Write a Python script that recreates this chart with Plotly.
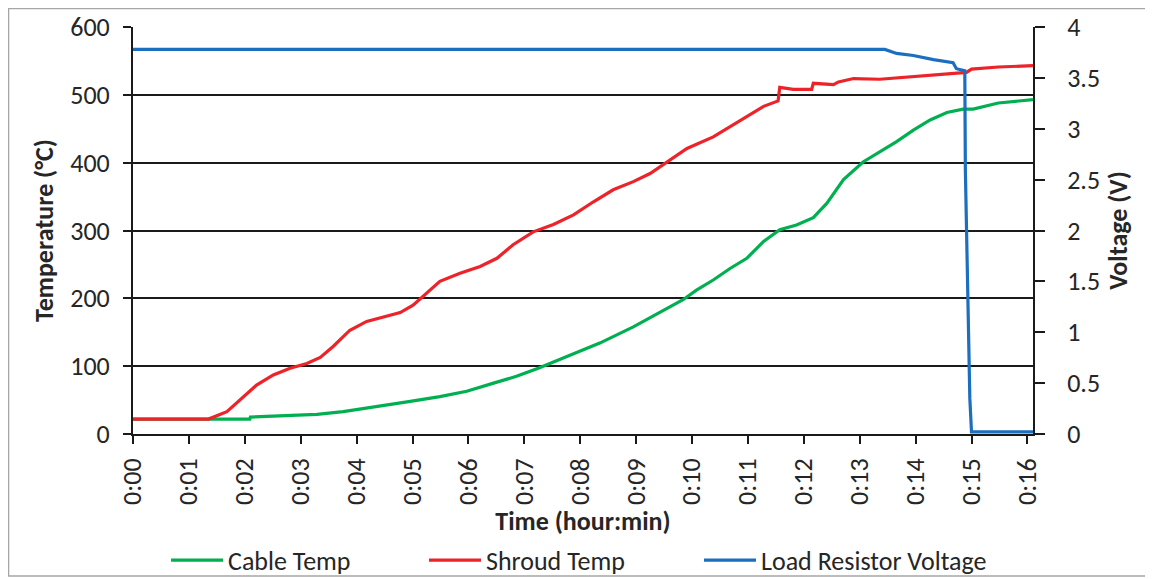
import plotly.graph_objects as go

# Time in minutes
cable_t = [0, 2.09, 2.1, 2.93, 3.29, 3.76, 4.18, 4.54, 4.96, 5.49, 5.97, 6.45, 6.86, 7.25, 7.76,
           8.35, 8.95, 9.43, 9.84, 10.08, 10.38, 10.68, 10.98, 11.28, 11.57, 11.87, 12.17, 12.41,
           12.71, 13.06, 13.36, 13.66, 13.96, 14.26, 14.56, 14.85, 15.03, 15.48, 16.1]
cable_temp = [22, 22, 25, 27, 29, 33, 38, 43, 48, 55, 63, 75, 85, 97, 114,
              134, 158, 180, 198, 212, 227, 244, 259, 284, 301, 308, 319, 340,
              375, 401, 416, 431, 448, 463, 474, 479, 479, 488, 493]

shroud_t = [0, 1.35, 1.68, 1.97, 2.21, 2.51, 2.81, 3.11, 3.35, 3.58, 3.88, 4.18, 4.48, 4.78, 5.01,
            5.25, 5.49, 5.85, 6.21, 6.51, 6.80, 7.16, 7.52, 7.88, 8.23, 8.59, 8.95, 9.25, 9.55,
            9.91, 10.38, 10.98, 11.28, 11.54, 11.57, 11.81, 12.14, 12.17, 12.53, 12.62, 12.89,
            13.36, 13.96, 14.44, 14.91, 15.0, 15.48, 16.1]
shroud_temp = [22, 22, 33, 55, 72, 87, 97, 104, 113, 129, 153, 166, 172, 179, 190,
               208, 225, 237, 247, 259, 279, 298, 309, 323, 342, 360, 372, 384, 401,
               421, 438, 468, 483, 491, 511, 508, 508, 517, 515, 519, 524,
               523, 527, 531, 533, 538, 541, 543]

volt_t = [0, 13.45, 13.66, 13.96, 14.32, 14.67, 14.73, 14.88, 14.89, 14.97, 15.0, 16.1]
volt_v = [3.78, 3.78, 3.74, 3.72, 3.68, 3.65, 3.59, 3.57, 2.6, 0.35, 0.02, 0.02]

x_tick_vals = list(range(0, 17))
x_tick_text = ["0:%02d" % m for m in x_tick_vals]
y_tick_vals = [0, 100, 200, 300, 400, 500, 600]
y2_tick_vals = [0, 0.5, 1, 1.5, 2, 2.5, 3, 3.5, 4]
y2_tick_text = ["0", "0.5", "1", "1.5", "2", "2.5", "3", "3.5", "4"]

FONT = "Carlito, Calibri, Lato, sans-serif"

fig = go.Figure()
fig.add_trace(go.Scatter(x=cable_t, y=cable_temp, name="Cable Temp", mode="lines",
                         line=dict(color="#00B050", width=3.2), legend="legend"))
fig.add_trace(go.Scatter(x=shroud_t, y=shroud_temp, name="Shroud Temp", mode="lines",
                         line=dict(color="#EE2229", width=3.2), legend="legend2"))
fig.add_trace(go.Scatter(x=volt_t, y=volt_v, name="Load Resistor Voltage", mode="lines",
                         line=dict(color="#1C6EBF", width=3.2), yaxis="y2", legend="legend3"))


def leg(x):
    return dict(orientation="h", x=x, xanchor="left", y=-0.31, yanchor="middle",
                font=dict(size=26, color="#262626"), itemwidth=52,
                bgcolor="rgba(0,0,0,0)")


# The page body has an 8px margin, so the figure is sized/offset to land at the reference spots.
fig.update_layout(
    width=1145, height=571,
    margin=dict(l=125, r=120, t=19, b=145, autoexpand=False),
    paper_bgcolor="white", plot_bgcolor="white",
    font=dict(family=FONT, size=26, color="#262626"),
    showlegend=True,
    legend=leg(0.0367), legend2=leg(0.3233), legend3=leg(0.6289),
    xaxis=dict(range=[0, 16.1], tickvals=x_tick_vals, ticktext=x_tick_text, tickangle=-90,
               showgrid=False, zeroline=False, showline=True, linecolor="#1a1a1a", linewidth=2,
               ticks="outside", ticklen=8, tickwidth=2, tickcolor="#1a1a1a",
               tickfont=dict(size=26), ticklabelstandoff=4,
               title=dict(text="<b>Time (hour:min)</b>", font=dict(size=26), standoff=2)),
    yaxis=dict(range=[0, 600], tickvals=y_tick_vals, showgrid=True, gridcolor="#1a1a1a",
               gridwidth=1.6, zeroline=False, showline=True, linecolor="#1a1a1a", linewidth=2,
               ticks="outside", ticklen=8, tickwidth=2, tickcolor="#1a1a1a",
               tickfont=dict(size=26), ticklabelstandoff=8,
               title=dict(text="<b>Temperature (°C)</b>", font=dict(size=26), standoff=9)),
    yaxis2=dict(range=[0, 4], tickvals=y2_tick_vals, ticktext=y2_tick_text, overlaying="y",
                side="right", showgrid=False, zeroline=False, showline=True, linecolor="#1a1a1a",
                linewidth=2, ticks="outside", ticklen=10, tickwidth=2, tickcolor="#1a1a1a",
                tickfont=dict(size=26), ticklabelstandoff=17,
                title=dict(text="<b>Voltage (V)</b>", font=dict(size=26), standoff=10)),
    shapes=[dict(type="rect", xref="paper", yref="paper", x0=-0.1383, x1=1.1267,
                 y0=-0.3489, y1=1.0455, line=dict(color="#A6A6A6", width=1.5),
                 fillcolor="rgba(0,0,0,0)", layer="below")],
)

fig.write_html("out.html")
